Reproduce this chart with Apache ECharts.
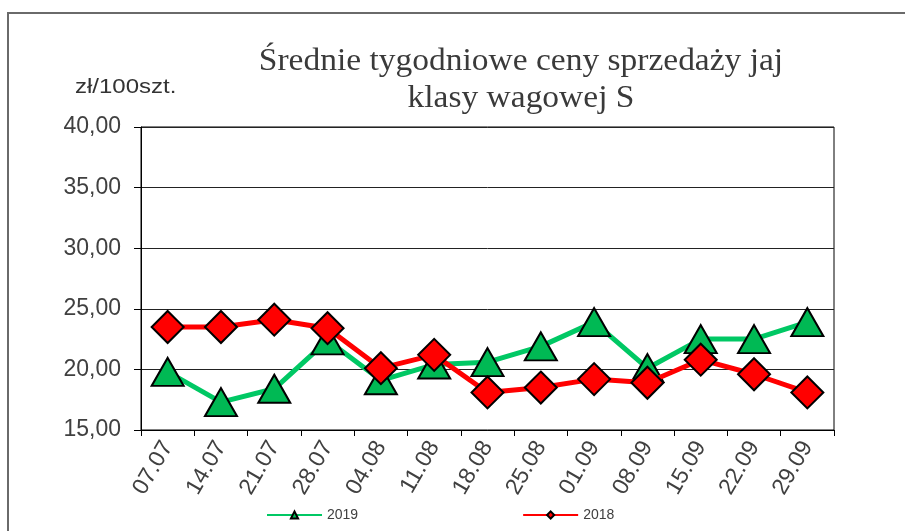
<!DOCTYPE html>
<html>
<head>
<meta charset="utf-8">
<script src="https://cdn.jsdelivr.net/npm/echarts@6/dist/echarts.min.js"></script>
<style>
  html, body { margin: 0; padding: 0; background: #fff; }
  #chart { width: 905px; height: 531px; }
</style>
</head>
<body>
<div id="chart"></div>
<script>
// week start dates
const weeks = ['07.07', '14.07', '21.07', '28.07', '04.08', '11.08', '18.08', '25.08', '01.09', '08.09', '15.09', '22.09', '29.09'];
// zł/100szt.
const prices2019 = [19.8, 17.3, 18.4, 22.4, 19.1, 20.4, 20.6, 21.9, 23.9, 20.1, 22.5, 22.5, 23.9];
const prices2018 = [23.5, 23.5, 24.1, 23.4, 20.1, 21.2, 18.1, 18.5, 19.2, 18.9, 20.8, 19.6, 18.1];
const yTicks = [15, 20, 25, 30, 35, 40];

const chart = echarts.init(document.getElementById('chart'));

const options = {
  animation: false,
  graphic: [
    {
      // outer chart frame
      type: 'polyline',
      shape: { points: [[8, 531], [8, 13], [905, 13]] },
      style: { stroke: '#6a6a6a', lineWidth: 2, fill: null }
    },
    {
      type: 'text',
      x: 521,
      y: 43,
      scaleX: 1.08,
      style: {
        text: 'Średnie tygodniowe ceny sprzedaży jaj\nklasy wagowej S',
        font: '31px "Liberation Serif"',
        lineHeight: 37,
        textAlign: 'center',
        fill: '#3a3a3a'
      }
    },
    {
      type: 'text',
      x: 75,
      y: 77,
      scaleX: 1.2,
      style: { text: 'zł/100szt.', font: '20px "Liberation Sans"', fill: '#333' }
    }
  ],
  legend: {
    bottom: 4,
    left: 261,
    itemGap: 164,
    itemWidth: 55,
    itemHeight: 9,
    textStyle: { fontFamily: 'Liberation Sans', fontSize: 14, color: '#404040' },
    data: ['2019', '2018']
  },
  grid: {
    left: 141, right: 71, top: 127, bottom: 101,
    show: true, borderColor: '#000', borderWidth: 1
  },
  xAxis: {
    type: 'category',
    data: weeks,
    boundaryGap: true,
    axisLine: { lineStyle: { color: '#000', width: 1 } },
    axisTick: { show: true, length: 6, lineStyle: { color: '#000' } },
    axisLabel: {
      rotate: 60,
      margin: 13,
      fontFamily: 'Liberation Sans',
      fontSize: 23,
      color: '#404040'
    }
  },
  yAxis: {
    type: 'value',
    min: yTicks[0],
    max: yTicks[yTicks.length - 1],
    interval: 5,
    axisLine: { show: true, lineStyle: { color: '#000', width: 1 } },
    axisTick: { show: true, length: 7, lineStyle: { color: '#000' } },
    splitLine: { lineStyle: { color: '#222', width: 1 } },
    axisLabel: {
      margin: 20,
      fontFamily: 'Liberation Sans',
      fontSize: 23,
      color: '#404040',
      formatter: (v) => v.toFixed(2).replace('.', ',')
    }
  },
  series: [
    {
      name: '2019',
      type: 'line',
      data: prices2019,
      symbol: 'triangle',
      symbolSize: [32, 28],
      lineStyle: { color: '#00c864', width: 5 },
      itemStyle: { color: '#00b954', borderColor: '#000', borderWidth: 2 },
      z: 2
    },
    {
      name: '2018',
      type: 'line',
      data: prices2018,
      symbol: 'diamond',
      symbolSize: [32, 32],
      lineStyle: { color: '#ff0000', width: 5 },
      itemStyle: { color: '#ff0000', borderColor: '#000', borderWidth: 2 },
      z: 3
    }
  ]
};

chart.setOption(options);
</script>
</body>
</html>
